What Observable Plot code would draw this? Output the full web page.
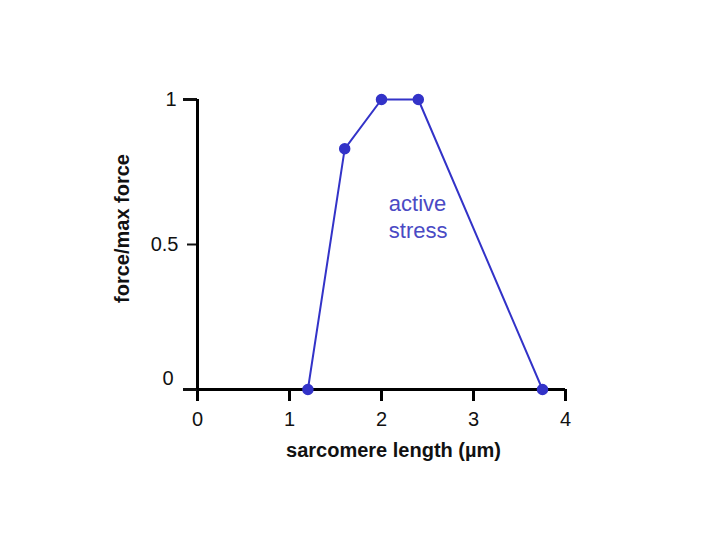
<!DOCTYPE html>
<html>
<head>
<meta charset="utf-8">
<script src="https://cdn.jsdelivr.net/npm/d3@7"></script>
<script src="https://cdn.jsdelivr.net/npm/@observablehq/plot@0.6"></script>
<style>
  html, body { margin: 0; padding: 0; background: #fff; }
  #chart svg { display: block; }
</style>
</head>
<body>
<div id="chart"></div>
<script>
// sarcomere length (µm) and normalized active force
const sarcomereLength = [1.2, 1.6, 2.0, 2.4, 3.75];
const relativeForce = [0, 0.83, 1.0, 1.0, 0];
const xTicks = [0, 1, 2, 3, 4];
const yTickMajor = [1];
const yTickMinor = [0.5];
const yZeroTick = [0];
const annotationText = ["active\nstress"];
const annotationX = [2.08];
const annotationY = [0.6];

const data = sarcomereLength.map((x, i) => ({x, y: relativeForce[i]}));
const notes = annotationText.map((t, i) => ({t, x: annotationX[i], y: annotationY[i]}));

const blue = "#3333c8";
const font = "'Liberation Sans', Arial, Helvetica, sans-serif";
const fmt = d => String(d);

const plot = Plot.plot({
  width: 720,
  height: 540,
  marginLeft: 197,
  marginRight: 155,
  marginTop: 99,
  marginBottom: 151,
  style: {fontFamily: font, background: "#fff", color: "#111"},
  x: {domain: [0, 4]},
  y: {domain: [0, 1]},
  marks: [
    Plot.axisX(xTicks, {tickSize: 12, tickPadding: 10, strokeWidth: 3, fontSize: 20, label: null, stroke: "#000", tickFormat: fmt}),
    Plot.axisY(yTickMajor, {tickSize: 14, tickPadding: 7, strokeWidth: 3, fontSize: 20, label: null, tickFormat: fmt}),
    Plot.axisY(yTickMinor, {tickSize: 10, tickPadding: 9, strokeWidth: 2, fontSize: 20, label: null, tickFormat: fmt}),
    Plot.axisY(yZeroTick, {tickSize: 14, tickPadding: 10, strokeWidth: 3, fontSize: 20, label: null, tickFormat: () => ""}),
    Plot.axisY(yZeroTick, {tickSize: 0, tickPadding: 24, dy: -11, fontSize: 20, label: null, tickFormat: fmt}),
    Plot.ruleX([0], {strokeWidth: 3, stroke: "#000"}),
    Plot.ruleY([0], {strokeWidth: 3, stroke: "#000"}),
    Plot.line(data, {x: "x", y: "y", stroke: blue, strokeWidth: 2}),
    Plot.dot(data, {x: "x", y: "y", r: 5, fill: blue, stroke: blue}),
    Plot.text(notes, {x: "x", y: "y", text: "t", textAnchor: "start", fill: "#4a4ac4", fontSize: 22, lineHeight: 1.23}),
    Plot.text(["sarcomere length (\u00b5m)"], {frameAnchor: "bottom", textAnchor: "middle", lineAnchor: "middle", dx: 12, dy: 61, fontSize: 20, fontWeight: "bold", fill: "#111"}),
    Plot.text(["force/max force"], {frameAnchor: "left", textAnchor: "middle", lineAnchor: "middle", dx: -75, dy: -16, rotate: -90, fontSize: 20, fontWeight: "bold", fill: "#111"})
  ]
});
document.getElementById("chart").appendChild(plot);
</script>
</body>
</html>
